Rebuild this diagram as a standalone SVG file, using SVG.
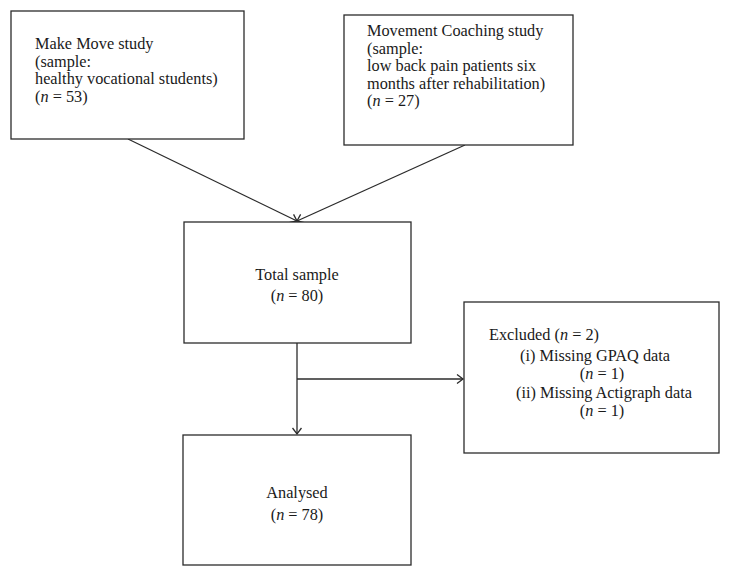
<svg xmlns="http://www.w3.org/2000/svg" width="730" height="576" viewBox="0 0 730 576">
<defs>
<style>
.box{fill:#fff;stroke:#2b2b2b;stroke-width:1.3}
.t{font-family:"Liberation Serif","Times New Roman",serif;font-size:16.3px;fill:#1a1a1a}
.c{text-anchor:middle}
.e{stroke:#2b2b2b;stroke-width:1.3;fill:none}
.it{font-style:italic}
</style>
<marker id="ah" markerWidth="10" markerHeight="10" refX="7" refY="5" orient="auto" markerUnits="userSpaceOnUse">
<path d="M1,0.5 L7,5 L1,9.5" fill="none" stroke="#2b2b2b" stroke-width="1.3"/>
</marker>
</defs>
<rect width="730" height="576" fill="#fff"/>
<g id="edges">
<line class="e" x1="128" y1="139" x2="297" y2="221" marker-end="url(#ah)"/>
<line class="e" x1="465" y1="145" x2="297" y2="221" marker-end="url(#ah)"/>
<line class="e" x1="297" y1="343" x2="297" y2="434" marker-end="url(#ah)"/>
<line class="e" x1="297" y1="379" x2="463" y2="379" marker-end="url(#ah)"/>
</g>
<g id="makemove">
<rect class="box" x="11" y="11" width="233" height="128"/>
<text class="t" x="35" y="49">Make Move study</text>
<text class="t" x="35" y="66.5">(sample:</text>
<text class="t" x="35" y="84">healthy vocational students)</text>
<text class="t" x="35" y="101.5">(<tspan class="it">n</tspan> = 53)</text>
</g>
<g id="coaching">
<rect class="box" x="344" y="15" width="229" height="130"/>
<text class="t" x="367" y="36">Movement Coaching study</text>
<text class="t" x="367" y="53.5">(sample:</text>
<text class="t" x="367" y="71">low back pain patients six</text>
<text class="t" x="367" y="88.5">months after rehabilitation)</text>
<text class="t" x="367" y="106">(<tspan class="it">n</tspan> = 27)</text>
</g>
<g id="total">
<rect class="box" x="184" y="222" width="227" height="121"/>
<text class="t c" x="297" y="280">Total sample</text>
<text class="t c" x="297" y="301">(<tspan class="it">n</tspan> = 80)</text>
</g>
<g id="excluded">
<rect class="box" x="464" y="302" width="255" height="151"/>
<text class="t" x="489" y="340">Excluded (<tspan class="it">n</tspan> = 2)</text>
<text class="t" x="520" y="361">(i) Missing GPAQ data</text>
<text class="t c" x="602" y="378.5">(<tspan class="it">n</tspan> = 1)</text>
<text class="t" x="516" y="398">(ii) Missing Actigraph data</text>
<text class="t c" x="602" y="415.5">(<tspan class="it">n</tspan> = 1)</text>
</g>
<g id="analysed">
<rect class="box" x="183" y="435" width="228" height="130"/>
<text class="t c" x="297" y="498">Analysed</text>
<text class="t c" x="297" y="520">(<tspan class="it">n</tspan> = 78)</text>
</g>
</svg>
